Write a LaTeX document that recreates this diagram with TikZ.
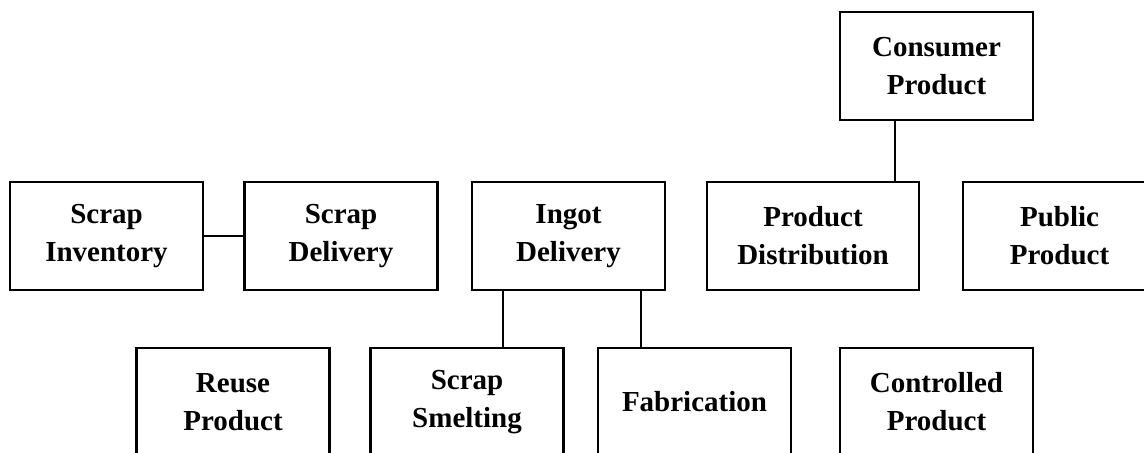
\documentclass[tikz,border=0pt]{standalone}
\usepackage{fontspec}
\setmainfont{Liberation Serif}

\begin{document}
\begin{tikzpicture}[x=0.5pt,y=-0.5pt,
  blk/.style={draw,line width=1.3pt,minimum width=96.5pt,minimum height=54pt,
    align=center,inner sep=0pt,font=\bfseries\fontsize{14.5}{19}\selectfont},
  link/.style={line width=1.3pt}]
\clip (0,0) rectangle (1144,452);

\node[blk] (ConsProd)  at (936.5,66)  {Consumer\\Product};
\node[blk] (ScrapInv)  at (106.5,236) {Scrap\\Inventory};
\node[blk] (ScrapDel)  at (341,236)   {Scrap\\Delivery};
\node[blk] (IngotDel)  at (568.5,236) {Ingot\\Delivery};
\node[blk,minimum width=106pt] (ProdDist) at (813,236) {Product\\Distribution};
\node[blk] (PublProd)  at (1059.5,236) {Public\\Product};

\node[blk] (ReuseProd)  at (233,402)   {Reuse\\Product};
\node[blk] (ScrapSmelt) at (467,402)   {Scrap\\Smelting};
\node[blk] (Fabr)       at (694.5,402) {Fabrication};
\node[blk] (CtrlProd)   at (936.5,402) {Controlled\\Product};

\draw[link] (ScrapInv) -- (ScrapDel);
\draw[link] ([xshift=-20.75pt]ConsProd.south) -- ([xshift=-20.75pt]ConsProd.south |- ProdDist.north);
\draw[link] ([xshift=-32.75pt]IngotDel.south) -- ([xshift=-32.75pt]IngotDel.south |- ScrapSmelt.north);
\draw[link] ([xshift=36.25pt]IngotDel.south) -- ([xshift=36.25pt]IngotDel.south |- Fabr.north);
\end{tikzpicture}
\end{document}
